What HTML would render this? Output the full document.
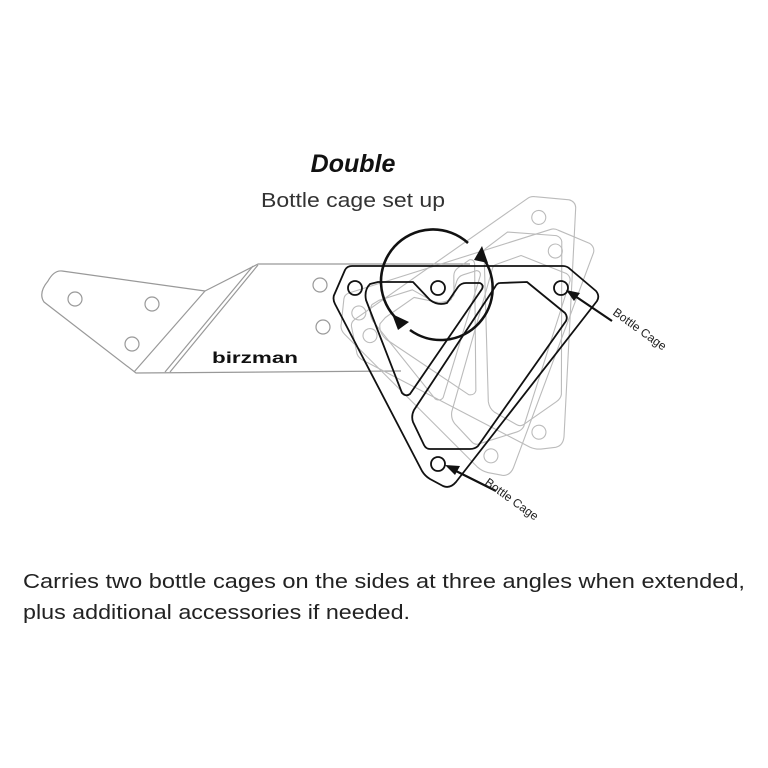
<!DOCTYPE html>
<html><head><meta charset="utf-8"><style>
html,body{margin:0;padding:0;background:#fff;}
svg{display:block}
text{font-family:"Liberation Sans",sans-serif;}
</style></head><body>
<svg width="768" height="768" viewBox="0 0 768 768" xmlns="http://www.w3.org/2000/svg">
<defs>
<g id="tri">
<path d="M352,266 L563,266 Q567,266 570,269 L596,291 Q600,296 597,301 L456,482 Q450,489 443,486 L430,479 Q425,476 422,471 L335,304 Q332,298 335,293 L345,270 Q347,266 352,266 Z"/>
<path d="M378,282 L413,282 L430,300 Q438,306 447,303 L458,287 Q461,283 466,283 L480,283 Q484,285 482,289 L410,394 Q406,397 402,393 L366,300 Q364,290 370,284 Z"/>
<path d="M500,283 L527,282 L565,313 Q568,317 566,321 L478,446 Q475,449 470,449 L430,449 Q426,449 424,445 L413,422 Q411,416 414,410 L495,287 Q497,283 500,283 Z"/>
<circle cx="355" cy="288" r="7"/>
<circle cx="438" cy="288" r="7"/>
<circle cx="561" cy="288" r="7"/>
<circle cx="438" cy="464" r="7"/>
</g>
</defs>
<text x="353" y="172" font-size="25" font-weight="bold" font-style="italic" text-anchor="middle" fill="#111">Double</text>
<text x="261" y="207" font-size="20" fill="#333" textLength="184" lengthAdjust="spacingAndGlyphs">Bottle cage set up</text>

<!-- bracket -->
<g fill="none" stroke="#999" stroke-width="1.2" stroke-linejoin="round">
<path d="M62,271 L205,291 L258,264 L470,264"/>
<path d="M401,371 L136,373 L44,302 Q38,293 48,281 Q54,270 62,271"/>
<path d="M205,291 L134,372 M258,265 L170,372 M253,266 L165,372"/>
<circle cx="75" cy="299" r="7"/><circle cx="152" cy="304" r="7"/><circle cx="132" cy="344" r="7"/>
<circle cx="320" cy="285" r="7"/><circle cx="323" cy="327" r="7"/>
</g>
<text x="212" y="363" font-size="16" font-weight="bold" fill="#111" textLength="86" lengthAdjust="spacingAndGlyphs">birzman</text>

<!-- ghost copies -->
<g fill="none" stroke="#bbb" stroke-width="1.1" stroke-linejoin="round">
<use href="#tri" transform="rotate(-35 438 288)"/>
<use href="#tri" transform="rotate(-17.5 438 288)"/>
</g>
<!-- main -->
<g fill="none" stroke="#111" stroke-width="1.8" stroke-linejoin="round">
<use href="#tri"/>
</g>

<!-- rotation arrows -->
<g fill="none" stroke="#111" stroke-width="2.6">
<path d="M468,243 A52,52 0 1 0 398,320"/>
<path d="M410,330 A52,52 0 0 0 480,254"/>
</g>
<polygon points="392,314 409,322 398,330" fill="#111"/>
<polygon points="482,246 488,263 474,260" fill="#111"/>

<!-- labels arrows -->
<g stroke="#111" stroke-width="2.2"><line x1="612" y1="321" x2="572" y2="294"/><line x1="496" y1="491" x2="452" y2="469"/></g>
<polygon points="566,290 580,293 574,301" fill="#111"/>
<polygon points="445,465 460,466 455,475" fill="#111"/>
<text x="612" y="314" font-size="12" fill="#222" transform="rotate(36 612 314)">Bottle Cage</text>
<text x="484" y="484" font-size="12" fill="#222" transform="rotate(36 484 484)">Bottle Cage</text>

<text x="23" y="588" font-size="20" fill="#222" textLength="722" lengthAdjust="spacingAndGlyphs">Carries two bottle cages on the sides at three angles when extended,</text>
<text x="23" y="619" font-size="20" fill="#222" textLength="387" lengthAdjust="spacingAndGlyphs">plus additional accessories if needed.</text>
</svg>
</body></html>
